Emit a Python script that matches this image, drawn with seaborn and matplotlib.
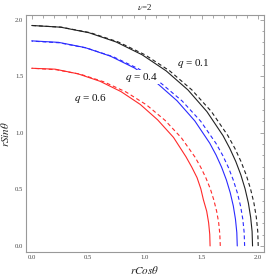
import matplotlib
matplotlib.use('Agg')
import matplotlib.pyplot as plt
import numpy as np
import pandas as pd
import seaborn as sns
from matplotlib.ticker import MultipleLocator, FormatStrFormatter

sns.set_theme(style="white")
plt.rcParams['font.family'] = ['Liberation Serif', 'DejaVu Serif']
plt.rcParams['mathtext.fontset'] = 'stix'

# curve points (x = r cos theta, y = r sin theta)
black_solid_x = [1.950, 1.946, 1.933, 1.913, 1.884, 1.847, 1.802, 1.749, 1.689, 1.547, 1.379, 1.187, 0.975, 0.746, 0.505, 0.255, 0.0]
black_solid_y = [0.0, 0.128, 0.255, 0.380, 0.505, 0.627, 0.746, 0.862, 0.975, 1.187, 1.379, 1.547, 1.689, 1.802, 1.884, 1.933, 1.948]
black_dash_x = [2.000, 1.996, 1.983, 1.962, 1.932, 1.894, 1.848, 1.794, 1.732, 1.587, 1.414, 1.218, 1.000, 0.765, 0.518, 0.261, 0.0]
black_dash_y = [0.0, 0.128, 0.255, 0.380, 0.505, 0.627, 0.746, 0.862, 0.975, 1.187, 1.379, 1.547, 1.689, 1.802, 1.884, 1.933, 1.948]

blue_solid_x = [1.815, 1.811, 1.799, 1.780, 1.753, 1.719, 1.677, 1.628, 1.572, 1.440, 1.283, 1.105, 0.908, 0.695, 0.470, 0.237, 0.0]
blue_solid_y = [0.0, 0.119, 0.237, 0.354, 0.470, 0.583, 0.695, 0.803, 0.908, 1.105, 1.283, 1.440, 1.572, 1.677, 1.753, 1.799, 1.812]
blue_dash_x = [1.880, 1.876, 1.864, 1.844, 1.816, 1.780, 1.737, 1.686, 1.628, 1.492, 1.329, 1.144, 0.940, 0.719, 0.487, 0.245, 0.0]
blue_dash_y = [0.0, 0.118, 0.236, 0.353, 0.468, 0.582, 0.693, 0.801, 0.905, 1.102, 1.280, 1.436, 1.567, 1.672, 1.748, 1.795, 1.810]

red_solid_x = [1.575, 1.572, 1.562, 1.545, 1.516, 1.493, 1.460, 1.413, 1.362, 1.252, 1.112, 0.959, 0.788, 0.603, 0.408, 0.206, 0.0]
red_solid_y = [0.0, 0.103, 0.206, 0.307, 0.408, 0.506, 0.603, 0.697, 0.788, 0.959, 1.114, 1.250, 1.364, 1.455, 1.521, 1.562, 1.570]
red_dash_x = [1.665, 1.661, 1.651, 1.633, 1.608, 1.577, 1.538, 1.493, 1.442, 1.321, 1.177, 1.014, 0.833, 0.637, 0.431, 0.217, 0.0]
red_dash_y = [0.0, 0.103, 0.205, 0.306, 0.406, 0.505, 0.601, 0.694, 0.785, 0.956, 1.110, 1.246, 1.360, 1.450, 1.517, 1.557, 1.570]

curves = {
    "k_solid": (black_solid_x, black_solid_y),
    "k_dash": (black_dash_x, black_dash_y),
    "b_solid": (blue_solid_x, blue_solid_y),
    "b_dash": (blue_dash_x, blue_dash_y),
    "r_solid": (red_solid_x, red_solid_y),
    "r_dash": (red_dash_x, red_dash_y),
}
dash = (0, (3.5, 2.5))
styles = {
    "k_solid": ("#222222", "-"),
    "k_dash": ("#222222", dash),
    "b_solid": ("#2a2aff", "-"),
    "b_dash": ("#2a2aff", dash),
    "r_solid": ("#ff2a2a", "-"),
    "r_dash": ("#ff2a2a", dash),
}

labels = ["$q$ = 0.1", "$q$ = 0.4", "$q$ = 0.6"]
label_x = [1.43, 0.97, 0.515]
label_y = [1.615, 1.49, 1.306]

fig = plt.figure(figsize=(2.66, 2.79), dpi=100)
ax = fig.add_axes([0.098, 0.097, 0.894, 0.849])

for name, (xs, ys) in curves.items():
    d = pd.DataFrame({"x": xs, "y": ys})
    color, ls = styles[name]
    sns.lineplot(data=d, x="x", y="y", sort=False, estimator=None, ax=ax,
                 color=color, linewidth=0.8, linestyle=ls)

for t, x, y in zip(labels, label_x, label_y):
    ax.text(x, y, t, fontsize=8, ha="center", va="center", color="#111111",
            bbox=dict(facecolor="white", edgecolor="none", pad=0.5), zorder=5)

ax.set_xlim(-0.05, 2.05)
ax.set_ylim(-0.053, 2.04)
ax.xaxis.set_major_locator(MultipleLocator(0.5))
ax.yaxis.set_major_locator(MultipleLocator(0.5))
ax.xaxis.set_minor_locator(MultipleLocator(0.1))
ax.yaxis.set_minor_locator(MultipleLocator(0.1))
ax.xaxis.set_major_formatter(FormatStrFormatter('%.1f'))
ax.yaxis.set_major_formatter(FormatStrFormatter('%.1f'))
ax.tick_params(which="both", direction="in", top=True, right=True, color="#999999", width=0.6)
ax.tick_params(which="major", length=3, labelsize=4.8, labelcolor="#444444", pad=2)
ax.tick_params(which="minor", length=1.8)
for s in ax.spines.values():
    s.set_color("#999999")
    s.set_linewidth(0.8)

ax.set_xlabel(r"$rCos\theta$", fontsize=8, labelpad=3, color="#222222")
ax.set_ylabel(r"$rSin\theta$", fontsize=8, labelpad=3, color="#222222")
ax.set_title(r"$\nu$=2", fontsize=6.5, pad=4, color="#222222")

fig.savefig("out.png", dpi=100)
